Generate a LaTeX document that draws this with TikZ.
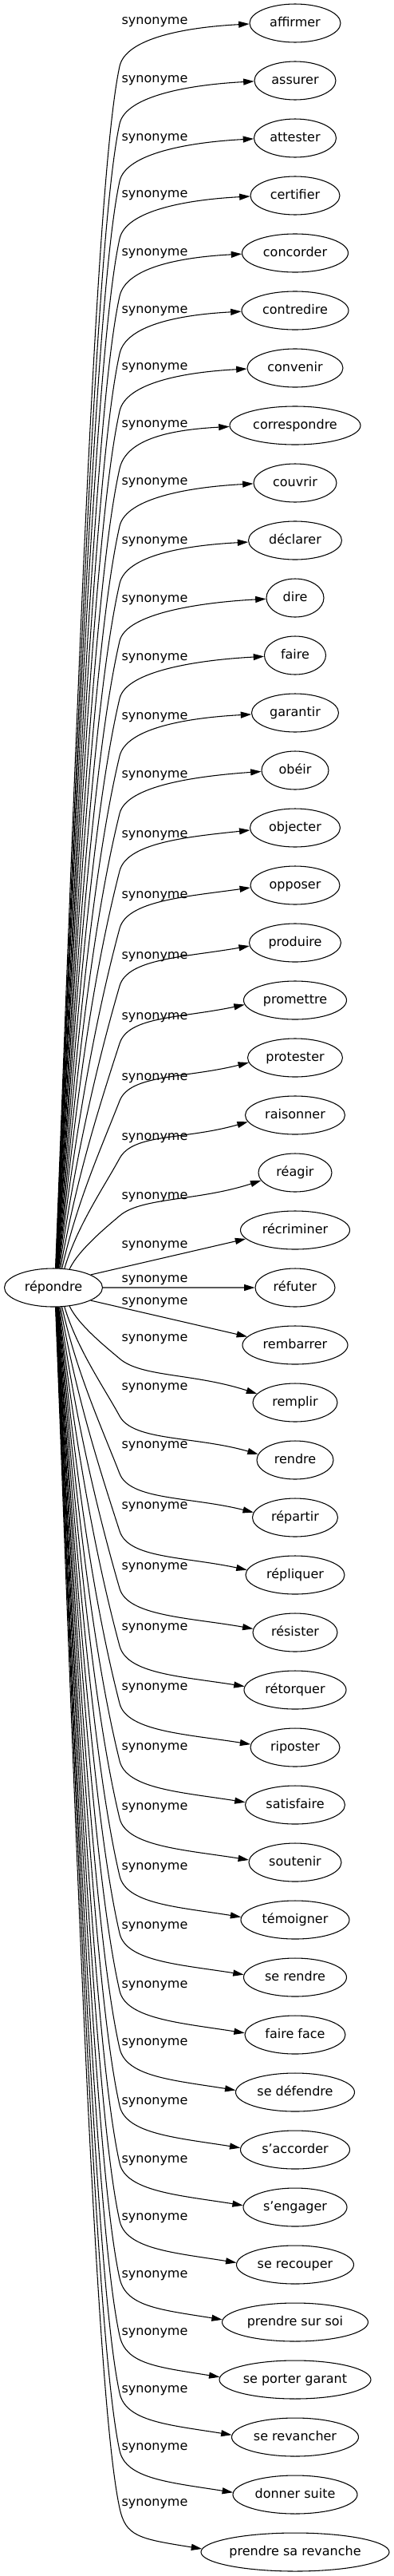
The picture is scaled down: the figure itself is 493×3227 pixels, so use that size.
\documentclass[tikz,border=0pt]{standalone}
\usepackage{fontspec}
\setmainfont{DejaVu Sans}
\usetikzlibrary{arrows.meta,positioning,shapes.geometric}

\begin{document}
\begin{tikzpicture}[
    x=0.75pt, y=-0.75pt,
    node distance=17.2pt,
    word/.style={ellipse, draw, line width=0.8pt, inner sep=0pt, minimum height=36pt, text height=9pt, text depth=3pt, font=\fontsize{12pt}{14pt}\selectfont},
    rel/.style={inner sep=0pt, text height=9pt, text depth=3pt, font=\fontsize{12pt}{14pt}\selectfont},
    arrow/.style={-{Triangle[length=10pt, width=6pt]}, line width=0.8pt}
]
    \useasboundingbox (0,0) rectangle (493,3227);

    % Source word
    \node[word, minimum width=92.25pt] (rep) at (67,1613) {répondre};

    % Synonyms, one column
    \node[word, minimum width=85.5pt] (affirmer) at (370,29) {affirmer};
    \node[word, minimum width=76.5pt, below=of affirmer] (assurer) {assurer};
    \node[word, minimum width=77.25pt, below=of assurer] (attester) {attester};
    \node[word, minimum width=84pt, below=of attester] (certifier) {certifier};
    \node[word, minimum width=99.75pt, below=of certifier] (concorder) {concorder};
    \node[word, minimum width=100.5pt, below=of concorder] (contredire) {contredire};
    \node[word, minimum width=90pt, below=of contredire] (convenir) {convenir};
    \node[word, minimum width=123pt, below=of convenir] (correspondre) {correspondre};
    \node[word, minimum width=78pt, below=of correspondre] (couvrir) {couvrir};
    \node[word, minimum width=87.75pt, below=of couvrir] (declarer) {déclarer};
    \node[word, minimum width=54pt, below=of declarer] (dire) {dire};
    \node[word, minimum width=57.75pt, below=of dire] (faire) {faire};
    \node[word, minimum width=81.75pt, below=of faire] (garantir) {garantir};
    \node[word, minimum width=63pt, below=of garantir] (obeir) {obéir};
    \node[word, minimum width=84.75pt, below=of obeir] (objecter) {objecter};
    \node[word, minimum width=84pt, below=of objecter] (opposer) {opposer};
    \node[word, minimum width=86.25pt, below=of opposer] (produire) {produire};
    \node[word, minimum width=96.75pt, below=of produire] (promettre) {promettre};
    \node[word, minimum width=89.25pt, below=of promettre] (protester) {protester};
    \node[word, minimum width=93.75pt, below=of protester] (raisonner) {raisonner};
    \node[word, minimum width=69pt, below=of raisonner] (reagir) {réagir};
    \node[word, minimum width=102.75pt, below=of reagir] (recriminer) {récriminer};
    \node[word, minimum width=75pt, below=of recriminer] (refuter) {réfuter};
    \node[word, minimum width=99pt, below=of refuter] (rembarrer) {rembarrer};
    \node[word, minimum width=79.5pt, below=of rembarrer] (remplir) {remplir};
    \node[word, minimum width=72pt, below=of remplir] (rendre) {rendre};
    \node[word, minimum width=80.25pt, below=of rendre] (repartir) {répartir};
    \node[word, minimum width=93pt, below=of repartir] (repliquer) {répliquer};
    \node[word, minimum width=79.5pt, below=of repliquer] (resister) {résister};
    \node[word, minimum width=96pt, below=of resister] (retorquer) {rétorquer};
    \node[word, minimum width=84pt, below=of retorquer] (riposter) {riposter};
    \node[word, minimum width=93.75pt, below=of riposter] (satisfaire) {satisfaire};
    \node[word, minimum width=87pt, below=of satisfaire] (soutenir) {soutenir};
    \node[word, minimum width=102pt, below=of soutenir] (temoigner) {témoigner};
    \node[word, minimum width=96.75pt, below=of temoigner] (serendre) {se rendre};
    \node[word, minimum width=94.5pt, below=of serendre] (faireface) {faire face};
    \node[word, minimum width=111.75pt, below=of faireface] (sedefendre) {se défendre};
    \node[word, minimum width=102.75pt, below=of sedefendre] (saccorder) {s'accorder};
    \node[word, minimum width=97.5pt, below=of saccorder] (sengager) {s'engager};
    \node[word, minimum width=110.25pt, below=of sengager] (serecouper) {se recouper};
    \node[word, minimum width=137.25pt, below=of serecouper] (prendresursoi) {prendre sur soi};
    \node[word, minimum width=142.5pt, below=of prendresursoi] (seportergarant) {se porter garant};
    \node[word, minimum width=119.25pt, below=of seportergarant] (serevancher) {se revancher};
    \node[word, minimum width=117pt, below=of serevancher] (donnersuite) {donner suite};
    \node[word, minimum width=177pt, below=of donnersuite] (prendresarevanche) {prendre sa revanche};

    % Edge labels
    \foreach \n/\ly in {affirmer/26, assurer/99, attester/172, certifier/243, concorder/316,
        contredire/388, convenir/459, correspondre/531, couvrir/603, declarer/677, dire/750,
        faire/823, garantir/897, obeir/970, objecter/1045, opposer/1121, produire/1197,
        promettre/1273, protester/1349, raisonner/1424, reagir/1498, recriminer/1559,
        refuter/1602, rembarrer/1630, remplir/1676, rendre/1737, repartir/1810, repliquer/1886,
        resister/1962, retorquer/2038, riposter/2113, satisfaire/2188, soutenir/2263,
        temoigner/2338, serendre/2412, faireface/2486, sedefendre/2558, saccorder/2632,
        sengager/2705, serecouper/2777, prendresursoi/2849, seportergarant/2921,
        serevancher/2993, donnersuite/3065, prendresarevanche/3135}
        \node[rel] (syn-\n) at (194,\ly) {synonyme};

    % Edges going up
    \foreach \n/\i in {affirmer/0, assurer/1, attester/2, certifier/3, concorder/4,
        contredire/5, convenir/6, correspondre/7, couvrir/8, declarer/9, dire/10, faire/11,
        garantir/12, obeir/13, objecter/14, opposer/15, produire/16, promettre/17,
        protester/18, raisonner/19, reagir/20} {
        \pgfmathsetmacro\kk{22-\i}
        \pgfmathsetmacro\outang{90-71/\kk^0.8}
        \pgfmathsetmacro\cdir{90-50/\kk}
        \pgfmathsetmacro\bendang{78-150/\kk^2}
        \pgfmathsetmacro\inang{180+26/\kk}
        \pgfmathsetmacro\slp{max(3,22-2*\kk)}
        \pgfmathsetmacro\bendy{29+72*\i+54}
        \pgfmathsetmacro\lone{0.4*(1590-\bendy)}
        \pgfmathsetmacro\ltwo{min(0.3*(1590-\bendy),150)}
        \draw[arrow] (rep.\outang) .. controls +({\lone*cos(\cdir)},{-\lone*sin(\cdir)})
            and +({-\ltwo*cos(\bendang)},{\ltwo*sin(\bendang)}) .. (150,\bendy)
            .. controls +({36*cos(\bendang)},{-36*sin(\bendang)}) and +(-80,{80*tan(\slp)}) .. (\n.\inang);
    }

    % Edges going down
    \foreach \n/\i in {remplir/24, rendre/25, repartir/26, repliquer/27, resister/28,
        retorquer/29, riposter/30, satisfaire/31, soutenir/32, temoigner/33, serendre/34,
        faireface/35, sedefendre/36, saccorder/37, sengager/38, serecouper/39,
        prendresursoi/40, seportergarant/41, serevancher/42, donnersuite/43,
        prendresarevanche/44} {
        \pgfmathsetmacro\kk{\i-22}
        \pgfmathsetmacro\outang{-90+71/\kk^0.8}
        \pgfmathsetmacro\cdir{90-50/\kk}
        \pgfmathsetmacro\bendang{78-150/\kk^2}
        \pgfmathsetmacro\inang{180-26/\kk}
        \pgfmathsetmacro\slp{max(9,22-2*\kk)}
        \pgfmathsetmacro\bendy{29+72*\i-55}
        \pgfmathsetmacro\lone{0.4*(\bendy-1636)}
        \pgfmathsetmacro\ltwo{min(0.3*(\bendy-1636),150)}
        \draw[arrow] (rep.\outang) .. controls +({\lone*cos(\cdir)},{\lone*sin(\cdir)})
            and +({-\ltwo*cos(\bendang)},{-\ltwo*sin(\bendang)}) .. (150,\bendy)
            .. controls +({36*cos(\bendang)},{36*sin(\bendang)}) and +(-80,{-80*tan(\slp)}) .. (\n.\inang);
    }

    % Edges close to the source
    \draw[arrow] (rep.19) -- (recriminer.190);
    \draw[arrow] (rep) -- (refuter);
    \draw[arrow] (rep.-19) -- (rembarrer.170);

\end{tikzpicture}
\end{document}
